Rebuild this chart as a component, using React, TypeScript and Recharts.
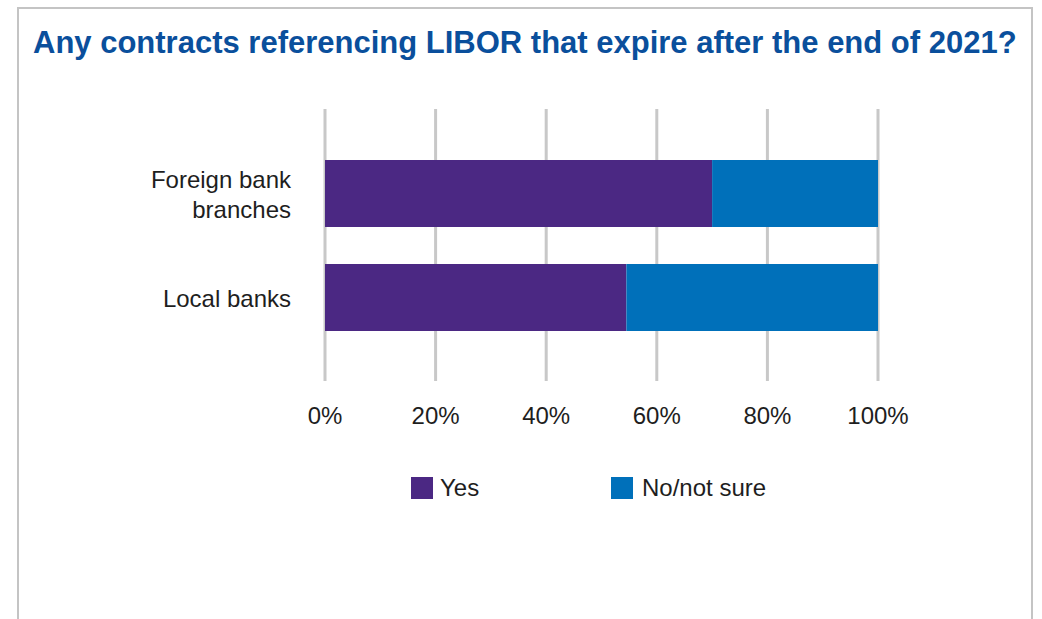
import React from "react";
import {
  BarChart,
  Bar,
  XAxis,
  YAxis,
  CartesianGrid,
  Legend,
} from "recharts";

// survey answers, share of respondents (%)
const categories = ["Foreign bank branches", "Local banks"];
const yesValues = [70, 54.5];
const noValues = [30, 45.5];
const xTicks = [0, 20, 40, 60, 80, 100];

const seriesNames = { yes: "Yes", no: "No/not sure" };
const colors = { yes: "#4b2883", no: "#0070ba" };

const data = categories.map((name, i) => ({
  name,
  yes: yesValues[i],
  no: noValues[i],
}));

const FONT = "'Liberation Sans', Arial, sans-serif";
const TEXT = "#1e1e1e";

// wrap the long category name onto two lines like the original
const labelLines: Record<string, string[]> = {
  "Foreign bank branches": ["Foreign bank", "branches"],
  "Local banks": ["Local banks"],
};

const YTick = (props: any) => {
  const { x, y, payload } = props;
  const lines = labelLines[payload.value] || [payload.value];
  const n = lines.length;
  return (
    <g>
      {lines.map((line, i) => (
        <text
          key={i}
          x={x - 34}
          y={y + 9.5 + (i - (n - 1) / 2) * 30}
          textAnchor="end"
          fontSize={24}
          fontFamily={FONT}
          fill={TEXT}
        >
          {line}
        </text>
      ))}
    </g>
  );
};

const XTick = (props: any) => {
  const { x, y, payload } = props;
  return (
    <text
      x={x}
      y={y + 43}
      textAnchor="middle"
      fontSize={24}
      fontFamily={FONT}
      fill={TEXT}
    >
      {payload.value + "%"}
    </text>
  );
};

const LegendContent = () => {
  const items = [
    { label: seriesNames.yes, color: colors.yes, gap: 7 },
    { label: seriesNames.no, color: colors.no, gap: 9 },
  ];
  return (
    <div style={{ display: "flex", paddingLeft: 411, height: 30, alignItems: "center" }}>
      {items.map((it) => (
        <div key={it.label} style={{ display: "flex", alignItems: "center", width: 200 }}>
          <div style={{ width: 22, height: 22, background: it.color }} />
          <span
            style={{
              marginLeft: it.gap,
              fontSize: 24,
              lineHeight: "30px",
              fontFamily: FONT,
              color: TEXT,
            }}
          >
            {it.label}
          </span>
        </div>
      ))}
    </div>
  );
};

export default function App() {
  return (
    <div
      style={{
        position: "absolute",
        left: 0,
        top: 0,
        width: 1042,
        height: 619,
        overflow: "hidden",
        background: "#fff",
      }}
    >
      <div
        style={{
          position: "absolute",
          left: 17,
          top: 7,
          width: 1016,
          height: 700,
          boxSizing: "border-box",
          border: "2px solid #c4c4c4",
        }}
      />
      <div
        style={{
          position: "absolute",
          left: 33,
          top: 25,
          fontFamily: FONT,
          fontWeight: "bold",
          fontSize: 31,
          color: "#0a4f9c",
          whiteSpace: "nowrap",
        }}
      >
        Any contracts referencing LIBOR that expire after the end of 2021?
      </div>
      <div style={{ position: "absolute", left: 0, top: 0 }}>
        <BarChart
          width={1042}
          height={619}
          data={data}
          layout="vertical"
          margin={{ top: 109, right: 164, left: 0, bottom: 198 }}
        >
          <CartesianGrid
            horizontal={false}
            vertical={true}
            stroke="#c8c8c8"
            strokeWidth={3}
          />
          <XAxis
            type="number"
            domain={[0, 100]}
            ticks={xTicks}
            axisLine={false}
            tickLine={false}
            tickSize={0}
            tickMargin={0}
            height={40}
            tick={<XTick />}
            interval={0}
          />
          <YAxis
            type="category"
            dataKey="name"
            width={325}
            axisLine={false}
            tickLine={false}
            tickSize={0}
            tickMargin={0}
            padding={{ top: 32, bottom: 32 }}
            tick={<YTick />}
          />
          <Legend
            layout="horizontal"
            verticalAlign="middle"
            align="center"
            wrapperStyle={{ top: 473, left: 0, width: 1042 }}
            content={<LegendContent />}
          />
          <Bar
            dataKey="yes"
            name={seriesNames.yes}
            stackId="a"
            fill={colors.yes}
            barSize={67}
            isAnimationActive={false}
          />
          <Bar
            dataKey="no"
            name={seriesNames.no}
            stackId="a"
            fill={colors.no}
            barSize={67}
            isAnimationActive={false}
          />
        </BarChart>
      </div>
    </div>
  );
}
